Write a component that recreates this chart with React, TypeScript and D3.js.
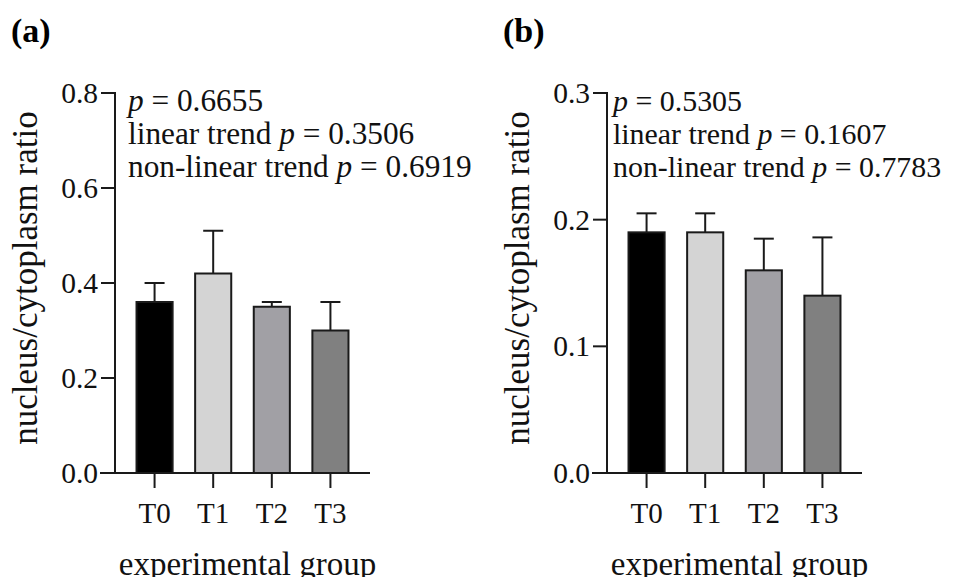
import React from 'react';
import * as d3 from 'd3';

// nucleus/cytoplasm ratio per experimental group, two panels (mean + upper SD)
const groups = ['T0', 'T1', 'T2', 'T3'];
const fills = ['#000000', '#d4d4d4', '#a1a0a5', '#808080'];

const meansA = [0.36, 0.42, 0.35, 0.3];
const errA = [0.04, 0.09, 0.01, 0.06];
const ticksA = [0, 0.2, 0.4, 0.6, 0.8];
const statsA = ['0.6655', '0.3506', '0.6919'];

const meansB = [0.19, 0.19, 0.16, 0.14];
const errB = [0.015, 0.015, 0.025, 0.046];
const ticksB = [0, 0.1, 0.2, 0.3];
const statsB = ['0.5305', '0.1607', '0.7783'];

const FONT = '"Liberation Serif", "Times New Roman", serif';
const INK = '#1a1a1a';
const TOP = 93;
const BASE = 473;
const AXIS_W = 255;

interface PanelProps {
  tag: string;
  x0: number;
  means: number[];
  errs: number[];
  ticks: number[];
  stats: string[];
  textDx: number;
  statSize: number;
}

const Panel: React.FC<PanelProps> = ({ tag, x0, means, errs, ticks, stats, textDx, statSize }) => {
  const y = d3.scaleLinear().domain([0, ticks[ticks.length - 1]]).range([BASE, TOP]);
  const x = d3.scaleBand<string>().domain(groups).range([x0, x0 + AXIS_W]).paddingInner(0.35).paddingOuter(0.35);
  const bw = x.bandwidth();
  const fmt = d3.format('.1f');
  const labels = ['', 'linear trend ', 'non-linear trend '];

  return (
    <g>
      <text x={x0 - 104} y={42} fontFamily={FONT} fontWeight="bold" fontSize={34} fill="#000">{tag}</text>

      {/* bars + upper error bars */}
      {groups.map((g, i) => {
        const bx = x(g)!;
        const cx = bx + bw / 2;
        const top = y(means[i]);
        const et = y(means[i] + errs[i]);
        return (
          <g key={g}>
            <line x1={cx} x2={cx} y1={top} y2={et} stroke={INK} strokeWidth={2} />
            <line x1={cx - 10} x2={cx + 10} y1={et} y2={et} stroke={INK} strokeWidth={2} />
            <rect x={bx + 1} y={top} width={bw - 2} height={BASE - top} fill={fills[i]} stroke={INK} strokeWidth={2} />
          </g>
        );
      })}

      {/* y axis */}
      <line x1={x0} x2={x0} y1={TOP - 1} y2={BASE} stroke={INK} strokeWidth={2} />
      {ticks.map(t => (
        <g key={t}>
          <line x1={x0 - 14} x2={x0} y1={y(t)} y2={y(t)} stroke={INK} strokeWidth={2} />
          <text x={x0 - 17} y={y(t)} dy="0.34em" textAnchor="end" fontFamily={FONT} fontSize={29.5} fill="#111">{fmt(t)}</text>
        </g>
      ))}

      {/* x axis */}
      <line x1={x0 - 15} x2={x0 + AXIS_W} y1={BASE} y2={BASE} stroke={INK} strokeWidth={2} />
      {groups.map(g => {
        const cx = x(g)! + bw / 2;
        return (
          <g key={g}>
            <line x1={cx} x2={cx} y1={BASE} y2={BASE + 15} stroke={INK} strokeWidth={2} />
            <text x={cx} y={523} textAnchor="middle" fontFamily={FONT} fontSize={29} fill="#111">{g}</text>
          </g>
        );
      })}

      {/* titles */}
      <text
        transform={`translate(${x0 - 78},${278}) rotate(-90)`}
        textAnchor="middle"
        fontFamily={FONT}
        fontSize={35}
        fill="#111"
      >
        nucleus/cytoplasm ratio
      </text>
      <text x={x0 + AXIS_W / 2 + 5} y={575} textAnchor="middle" fontFamily={FONT} fontSize={33} fill="#111">
        experimental group
      </text>

      {/* test results */}
      {stats.map((s, i) => (
        <text key={i} x={x0 + textDx} y={111 + i * 33} fontFamily={FONT} fontSize={statSize} fill="#111">
          {labels[i]}
          <tspan fontStyle="italic">p</tspan> = {s}
        </text>
      ))}
    </g>
  );
};

export default function App() {
  return (
    <svg width={960} height={585} style={{ display: 'block', margin: '-8px', background: '#fff' }}>
      <rect width={960} height={585} fill="#fff" />
      <Panel tag="(a)" x0={115} means={meansA} errs={errA} ticks={ticksA} stats={statsA} textDx={13} statSize={31.3} />
      <Panel tag="(b)" x0={607} means={meansB} errs={errB} ticks={ticksB} stats={statsB} textDx={6} statSize={29.9} />
    </svg>
  );
}
